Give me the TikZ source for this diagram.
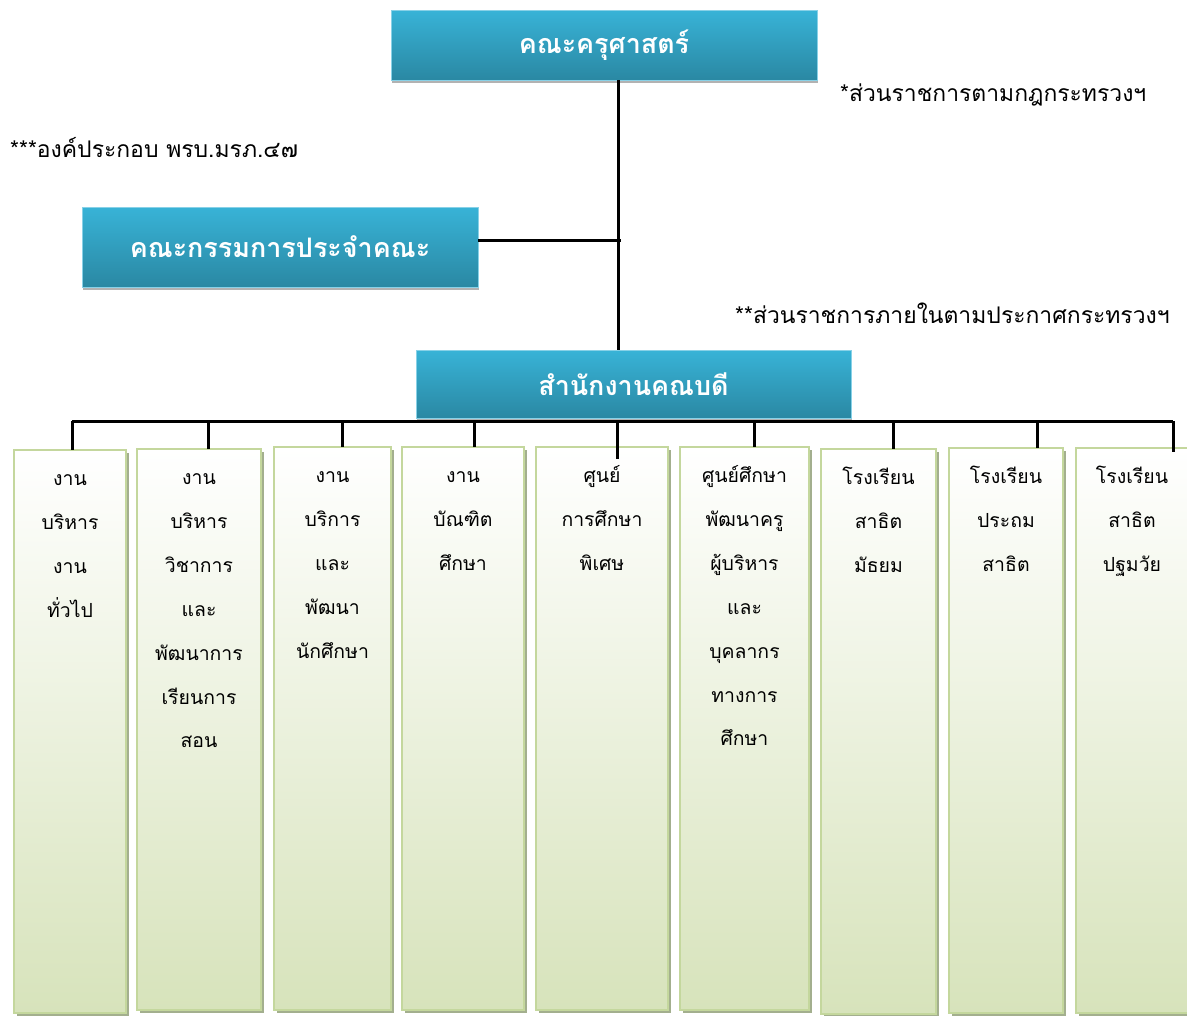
\documentclass[tikz,border=0pt]{standalone}
\usepackage{fontspec}
\newfontfamily\thai[Script=Thai]{Loma}
\usetikzlibrary{shadows}
\definecolor{bluetop}{HTML}{38B3D7}
\definecolor{bluebot}{HTML}{2A88A3}
\definecolor{greenbot}{HTML}{D7E3BB}
\definecolor{greenedge}{HTML}{C4D79D}
\definecolor{greenshadow}{HTML}{A3AF8E}
\begin{document}
\begin{tikzpicture}[x=1bp,y=-1bp,
  headbox/.style={rectangle, outer sep=0, top color=bluetop, bottom color=bluebot, draw=bluetop!60!white, line width=0.8bp, text=white, font=\thai\bfseries\fontsize{27}{32}\selectfont, drop shadow={opacity=0.3, shadow xshift=1bp, shadow yshift=-3bp, fill=black}},
  colbox/.style={rectangle, outer sep=0, anchor=north west, top color=white, bottom color=greenbot, draw=greenedge, line width=2bp, general shadow={fill=greenshadow, shadow xshift=3bp, shadow yshift=-3bp}},
  coltext/.style={anchor=north, align=center, inner sep=0, font=\thai\fontsize{19.5}{44}\selectfont},
  anno/.style={anchor=west, inner sep=0, font=\thai\fontsize{23}{28}\selectfont},
  conn/.style={line width=3bp, black}]
\useasboundingbox (0,0) rectangle (1187,1016);
% head boxes
\node[headbox, minimum width=426bp, minimum height=70bp, anchor=north west] (dean) at (391,10) {คณะครุศาสตร์};
\node[headbox, minimum width=396bp, minimum height=80bp, anchor=north west] (comm) at (82,207) {คณะกรรมการประจำคณะ};
\node[headbox, minimum width=435bp, minimum height=68bp, anchor=north west] (office) at (416,350) {สำนักงานคณบดี};
% annotations
\node[anno] (a1) at (840,95) {*ส่วนราชการตามกฎกระทรวงฯ};
\node[anno] (a2) at (10,148) {***องค์ประกอบ พรบ.มรภ.๔๗};
\node[anno] (a3) at (735,313) {**ส่วนราชการภายในตามประกาศกระทรวงฯ};
% column boxes
\node[colbox, minimum width=112bp, minimum height=563bp] (c1) at (14,450) {};
\node[colbox, minimum width=124bp, minimum height=561bp] (c2) at (137,449) {};
\node[colbox, minimum width=117bp, minimum height=563bp] (c3) at (274,447) {};
\node[colbox, minimum width=122bp, minimum height=563bp] (c4) at (402,447) {};
\node[colbox, minimum width=132bp, minimum height=563bp] (c5) at (536,447) {};
\node[colbox, minimum width=129bp, minimum height=563bp] (c6) at (680,447) {};
\node[colbox, minimum width=115bp, minimum height=565bp] (c7) at (821,449) {};
\node[colbox, minimum width=114bp, minimum height=565bp] (c8) at (949,448) {};
\node[colbox, minimum width=120bp, minimum height=565bp] (c9) at (1076,448) {};
% column texts
\node[coltext] (t1) at ([yshift=-5bp]c1.north) {\strut งาน\\บริหาร\\งาน\\ทั่วไป};
\node[coltext] (t2) at ([yshift=-5bp]c2.north) {\strut งาน\\บริหาร\\วิชาการ\\และ\\พัฒนาการ\\เรียนการ\\สอน};
\node[coltext] (t3) at ([yshift=-5bp]c3.north) {\strut งาน\\บริการ\\และ\\พัฒนา\\นักศึกษา};
\node[coltext] (t4) at ([yshift=-5bp]c4.north) {\strut งาน\\บัณฑิต\\ศึกษา};
\node[coltext] (t5) at ([yshift=-5bp]c5.north) {\strut ศูนย์\\การศึกษา\\พิเศษ};
\node[coltext] (t6) at ([yshift=-5bp]c6.north) {\strut ศูนย์ศึกษา\\พัฒนาครู\\ผู้บริหาร\\และ\\บุคลากร\\ทางการ\\ศึกษา};
\node[coltext] (t7) at ([yshift=-5bp]c7.north) {\strut โรงเรียน\\สาธิต\\มัธยม};
\node[coltext] (t8) at ([yshift=-5bp]c8.north) {\strut โรงเรียน\\ประถม\\สาธิต};
\node[coltext] (t9) at ([xshift=-4bp,yshift=-5bp]c9.north) {\strut โรงเรียน\\สาธิต\\ปฐมวัย};
% connectors
\coordinate (spine) at (618,0);
\coordinate (cj) at (621,240);
\draw[conn] (spine |- dean.south) -- (spine |- office.north);
\draw[conn] (comm.east |- cj) -- (cj);
\coordinate (busL) at (72,421);
\coordinate (busR) at (1173,421);
\draw[conn] (busL) -- (busR);
\foreach \i/\x in {1/72,2/208,3/342,4/474,6/754,7/893,8/1037}{
  \draw[conn] (\x,421) -- (\x,0 |- c\i.north);
}
\draw[conn] (617,421) -- (617,459);
\draw[conn] (busR) -- (1173,452);
\end{tikzpicture}
\end{document}
